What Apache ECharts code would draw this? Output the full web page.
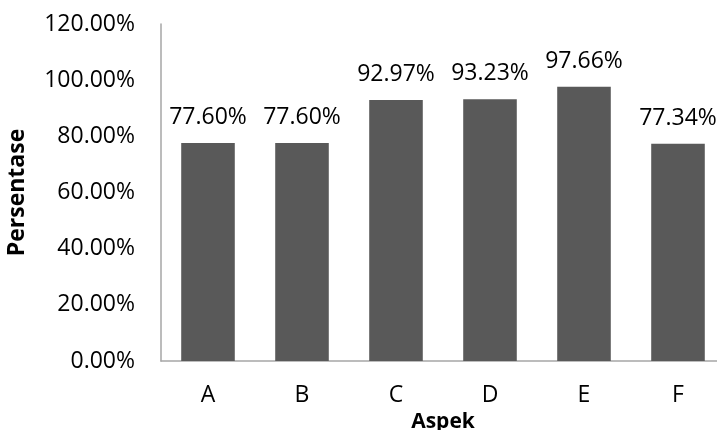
<!DOCTYPE html>
<html>
<head>
<meta charset="utf-8">
<script src="https://cdn.jsdelivr.net/npm/echarts@6/dist/echarts.min.js"></script>
<style>
  html, body { margin: 0; padding: 0; background: #fff; }
  #chart { width: 717px; height: 430px; }
</style>
</head>
<body>
<div id="chart"></div>
<script>
// Aspect categories and their percentage scores
const categories = ['A', 'B', 'C', 'D', 'E', 'F'];
const persentase = [77.60, 77.60, 92.97, 93.23, 97.66, 77.34];
const yTicks = [0, 20, 40, 60, 80, 100, 120];

const FONT = '"Open Sans", "Liberation Sans", sans-serif';

const chart = echarts.init(document.getElementById('chart'), null, { renderer: 'canvas' });

chart.setOption({
  animation: false,
  backgroundColor: '#ffffff',
  textStyle: { fontFamily: FONT, color: '#000' },
  grid: {
    left: 161,
    top: 24,
    width: 564,
    height: 337,
    containLabel: false,
    outerBoundsMode: 'none'
  },
  xAxis: {
    type: 'category',
    data: categories,
    name: 'Aspek',
    nameLocation: 'middle',
    nameGap: 48,
    nameTextStyle: { fontFamily: FONT, fontSize: 21, fontWeight: 'bold', color: '#000' },
    axisLine: { lineStyle: { color: '#a6a6a6', width: 1.5 } },
    axisTick: { show: false },
    axisLabel: { fontFamily: FONT, fontSize: 23, color: '#000', margin: 23 },
    splitLine: { show: false }
  },
  yAxis: {
    type: 'value',
    min: yTicks[0],
    max: yTicks[yTicks.length - 1],
    interval: yTicks[1] - yTicks[0],
    name: 'Persentase',
    nameLocation: 'middle',
    nameGap: 132,
    nameTextStyle: { fontFamily: FONT, fontSize: 23, fontWeight: 'bold', color: '#000' },
    axisLine: { show: true, lineStyle: { color: '#a6a6a6', width: 1.5 } },
    axisTick: { show: false },
    axisLabel: {
      fontFamily: FONT,
      fontSize: 23,
      color: '#000',
      margin: 26,
      formatter: v => v.toFixed(2) + '%'
    },
    splitLine: { show: false }
  },
  series: [{
    type: 'bar',
    data: persentase,
    barCategoryGap: '43%',
    itemStyle: { color: '#595959' },
    label: {
      show: true,
      position: 'top',
      distance: 14,
      fontFamily: FONT,
      fontSize: 23,
      color: '#000',
      formatter: p => p.value.toFixed(2) + '%'
    }
  }]
});
</script>
</body>
</html>
